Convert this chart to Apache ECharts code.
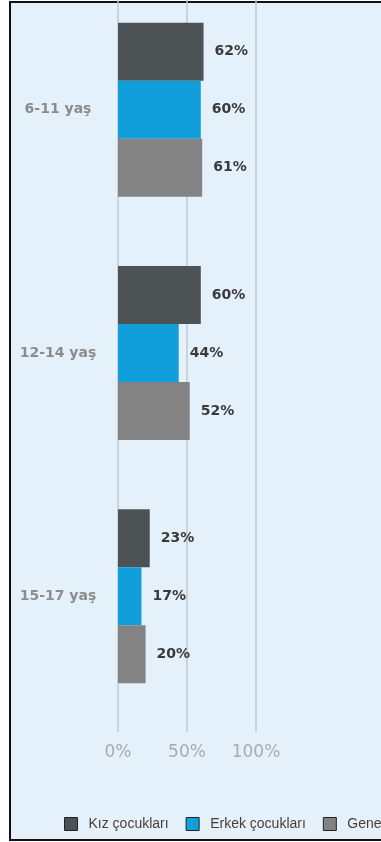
<!DOCTYPE html>
<html>
<head>
<meta charset="utf-8">
<script src="https://cdn.jsdelivr.net/npm/echarts@6/dist/echarts.min.js"></script>
<style>
  html, body { margin: 0; padding: 0; background: #fff; overflow: hidden; }
  .frame {
    position: absolute; left: 9px; top: 1px; width: 400px; height: 836px;
    background: #e5f1fa; border: 2px solid #111; border-right: none;
  }
  /* shifted up so the first band starts above the frame, like the source */
  #chart { position: absolute; left: 0; top: -12px; width: 381px; height: 854px; }
</style>
</head>
<body>
<div class="frame"></div>
<div id="chart"></div>
<script>
// yaş grupları
const categories = ["6-11 yaş", "12-14 yaş", "15-17 yaş"]
const seriesNames = ["Kız çocukları", "Erkek çocukları", "Genel"]
const girls = [62, 60, 23]
const boys = [60, 44, 17]
const overall = [61, 52, 20]
const xTicks = [0, 50, 100]

const colors = ["#4d5254", "#109fdb", "#838383"]
const values = [girls, boys, overall]

const chart = echarts.init(document.getElementById("chart"))

const option = {
  backgroundColor: "transparent",
  animation: false,
  grid: {
    left: 118,
    right: 125,
    top: 0,
    bottom: 124,
  },
  legend: {
    left: 64,
    top: 829,
    width: 700,
    padding: 0,
    itemWidth: 13,
    itemHeight: 13,
    itemGap: 17,
    icon: "rect",
    textStyle: {
      color: "#4a3e38",
      fontSize: 14,
      fontFamily: "Liberation Sans, sans-serif",
      padding: [0, 0, 0, 6],
    },
    data: seriesNames.map((n, i) => ({
      name: n,
      itemStyle: { color: colors[i], borderColor: "#222", borderWidth: 1 },
    })),
  },
  xAxis: {
    type: "value",
    min: xTicks[0],
    max: xTicks[xTicks.length - 1],
    interval: 50,
    axisLine: { show: false },
    axisTick: {
      show: true,
      length: 14,
      lineStyle: { color: "#c3c7cb", width: 1.5 },
    },
    axisLabel: {
      margin: 26,
      color: "#a9abad",
      fontSize: 17,
      fontFamily: "DejaVu Sans",
      formatter: (v) => v + "%",
    },
    splitLine: {
      lineStyle: { color: "#c3c7cb", width: 1.5 },
    },
  },
  yAxis: {
    type: "category",
    inverse: true,
    data: categories,
    axisLine: { show: false },
    axisTick: { show: false },
    axisLabel: {
      margin: 60,
      align: "center",
      color: "#8c8c8c",
      fontSize: 14,
      fontWeight: "bold",
      fontFamily: "DejaVu Sans",
    },
  },
  series: seriesNames.map((name, i) => ({
    name: name,
    type: "bar",
    data: values[i],
    barWidth: 58,
    barGap: "0%",
    itemStyle: { color: colors[i] },
    label: {
      show: true,
      position: "right",
      distance: 11,
      color: "#3a3a3a",
      fontSize: 14,
      fontWeight: "bold",
      fontFamily: "DejaVu Sans",
      formatter: "{c}%",
    },
  })),
}

chart.setOption(option)
</script>
</body>
</html>
